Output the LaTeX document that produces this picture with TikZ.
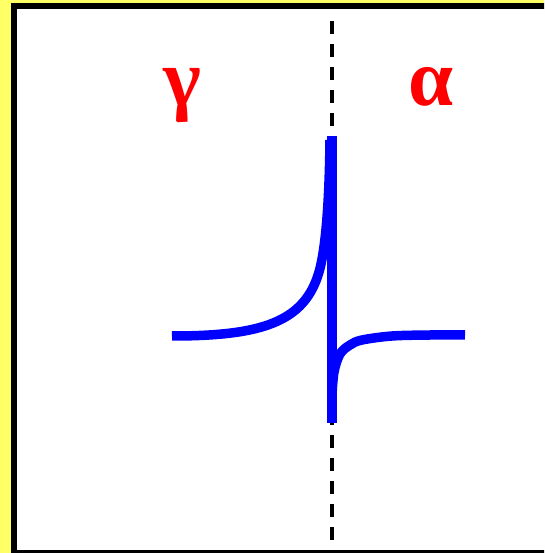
\documentclass[tikz,border=0pt]{standalone}
\usepackage{fontspec}
\usepackage{xcolor}
\usepackage{tikz}
\usetikzlibrary{positioning, calc}
\newfontfamily\greekfont{Liberation Serif}
\definecolor{frameyellow}{RGB}{255,255,102}
\tikzset{
  framebox/.style={
    draw=black, line width=0.12cm, fill=white
  },
  phaselabel/.style={
    text=red, anchor=base, inner sep=0pt,
    font=\greekfont\bfseries\fontsize{46}{46}\selectfont
  },
  boundaryline/.style={
    black, line width=0.07cm, dash pattern=on 0.26cm off 0.2cm
  },
  profileline/.style={
    blue, line width=0.19cm, line cap=butt, line join=round
  },
  spikeline/.style={
    blue, line width=0.2cm, line cap=butt
  },
}

\begin{document}
\begin{tikzpicture}
  % --- Background and frame ---
  \useasboundingbox (-6.64,-4.32) rectangle (4.24,6.74);
  \fill[frameyellow] (-6.64,-4.32) rectangle (4.24,6.74);
  \begin{scope}
    \clip (-6.64,-4.32) rectangle (4.24,6.74);
    \draw[framebox] (-6.36,-4.31) rectangle (5,6.61);
  \end{scope}

  % --- Phase labels ---
  \node[phaselabel] (gamma) at (-3.0,4.62) {γ};
  \node[phaselabel] (alpha) at (1.98,4.62) {α};

  % --- Phase boundary ---
  \coordinate (boundtop) at (0,6.31);
  \coordinate (boundbot) at (0,-4.22);
  \draw[boundaryline] (boundtop) -- (boundbot);

  % --- Concentration profile ---
  \coordinate (spiketop) at (0,4.02);
  \coordinate (spikebot) at (0,-1.72);
  \draw[profileline] (-3.2,0.02)
    .. controls (-1.4,0.02) and (-0.55,0.3) .. (-0.26,1.3)
    .. controls (-0.1,1.85) and (-0.05,3) .. (-0.04,3.94);
  \draw[profileline] plot[smooth, tension=0.55] coordinates {
    (0,-1.16) (0.04,-0.70) (0.16,-0.34) (0.36,-0.16) (0.60,-0.06)
    (1.20,0.02) (1.96,0.04) (2.66,0.04)};
  \draw[spikeline] (spiketop) -- (spikebot);
\end{tikzpicture}
\end{document}
